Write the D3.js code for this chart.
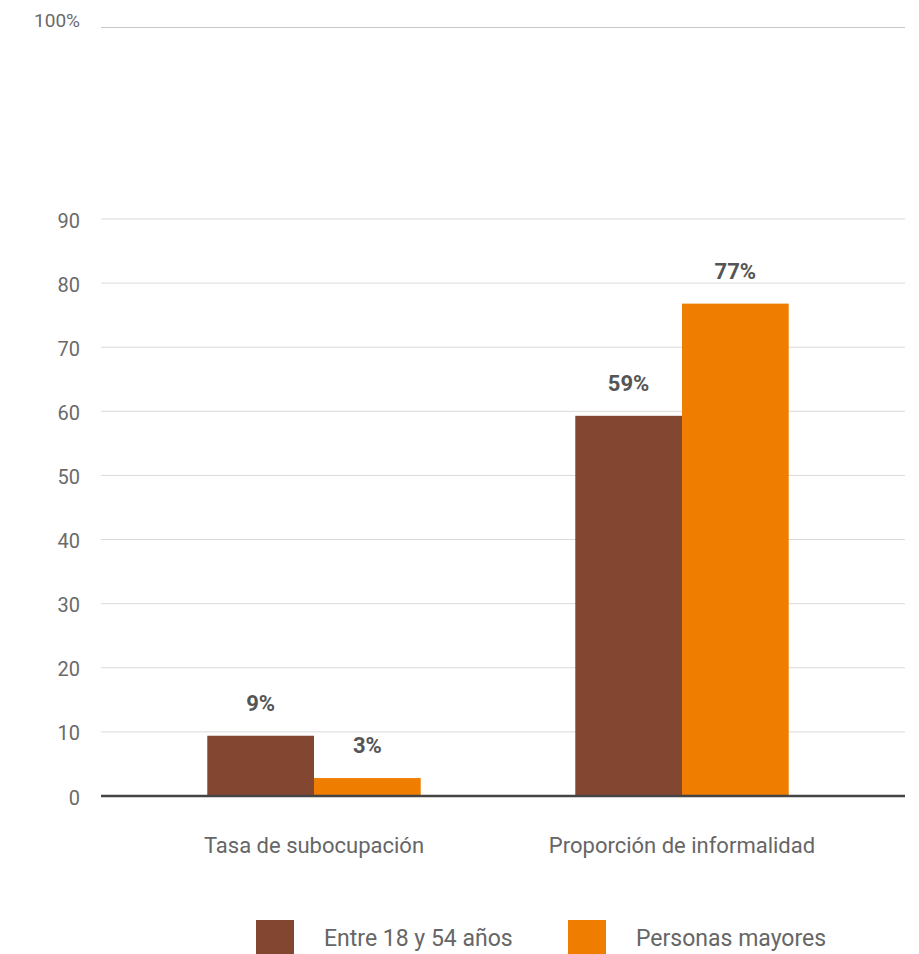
<!DOCTYPE html>
<html>
<head>
<meta charset="utf-8">
<script src="https://cdn.jsdelivr.net/npm/d3@7"></script>
<style>
  html, body { margin: 0; padding: 0; background: #fff; }
  svg { display: block; font-family: Roboto, "DejaVu Sans", sans-serif; }
</style>
</head>
<body>
<svg id="chart" width="919" height="954"></svg>
<script>
// Indicators shown on the x axis
const categories = ["Tasa de subocupación", "Proporción de informalidad"];
// Age groups (series)
const seriesNames = ["Entre 18 y 54 años", "Personas mayores"];
const seriesColors = ["#824631", "#EF7D00"];
// Percentages per series, in category order
const adultValues = [9.4, 59.3];
const olderValues = [2.8, 76.8];
// Axis ticks
const yTicks = [0, 10, 20, 30, 40, 50, 60, 70, 80, 90];
const topTickLabel = "100%";

const svg = d3.select("#chart");
const left = 101, right = 905, baseY = 796, topY = 219;

const y = d3.scaleLinear().domain([0, 90]).range([baseY, topY]);
const x0 = d3.scaleBand().domain(categories).range([130, 866])
  .paddingInner(0.42).paddingOuter(0.21);
const x1 = d3.scaleBand().domain(seriesNames).range([0, x0.bandwidth()]);
const color = d3.scaleOrdinal().domain(seriesNames).range(seriesColors);

// Gridlines
svg.append("g").selectAll("line").data(yTicks.filter(d => d > 0)).join("line")
  .attr("x1", left).attr("x2", right)
  .attr("y1", d => y(d)).attr("y2", d => y(d))
  .attr("stroke", "#d9d9d9").attr("stroke-width", 1);

// Top 100% reference line
svg.append("line").attr("x1", left).attr("x2", right)
  .attr("y1", 27.5).attr("y2", 27.5)
  .attr("stroke", "#c8c8c8").attr("stroke-width", 1);
svg.append("text").attr("x", 80).attr("y", 27)
  .attr("text-anchor", "end").attr("fill", "#6a6a6a")
  .attr("font-size", 19).text(topTickLabel);

// Y axis labels
const yAxis = d3.axisLeft(y).tickValues(yTicks).tickSize(0).tickPadding(0);
const gy = svg.append("g").attr("transform", "translate(80,0)").call(yAxis);
gy.select(".domain").remove();
gy.selectAll("text").attr("font-size", 20).attr("fill", "#6a6a6a")
  .attr("font-family", "Roboto, sans-serif").attr("dy", "0.4em");

// Bars
const rows = categories.map((c, i) => ({
  cat: c,
  vals: [{ s: seriesNames[0], v: adultValues[i] }, { s: seriesNames[1], v: olderValues[i] }]
}));

const groups = svg.append("g").selectAll("g").data(rows).join("g")
  .attr("transform", d => `translate(${x0(d.cat)},0)`);

groups.selectAll("rect").data(d => d.vals).join("rect")
  .attr("x", d => x1(d.s)).attr("width", x1.bandwidth())
  .attr("y", d => y(d.v)).attr("height", d => baseY - y(d.v))
  .attr("fill", d => color(d.s));

groups.selectAll("text.val").data(d => d.vals).join("text")
  .attr("class", "val")
  .attr("x", d => x1(d.s) + x1.bandwidth() / 2)
  .attr("y", d => y(d.v) - 25)
  .attr("text-anchor", "middle").attr("font-weight", "bold")
  .attr("font-size", 22).attr("fill", "#555")
  .text(d => Math.round(d.v) + "%");

// Baseline
svg.append("line").attr("x1", left).attr("x2", right)
  .attr("y1", baseY).attr("y2", baseY)
  .attr("stroke", "#444").attr("stroke-width", 2.5);

// Category labels
svg.append("g").selectAll("text").data(categories).join("text")
  .attr("x", d => x0(d) + x0.bandwidth() / 2).attr("y", 853)
  .attr("text-anchor", "middle").attr("font-size", 22).attr("fill", "#666")
  .text(d => d);

// Legend
const legendX = [256, 568];
const legend = svg.append("g").selectAll("g").data(seriesNames).join("g")
  .attr("transform", (d, i) => `translate(${legendX[i]},920)`);
legend.append("rect").attr("width", 38).attr("height", 36)
  .attr("fill", d => color(d));
legend.append("text").attr("x", 68).attr("y", 26)
  .attr("font-size", 23).attr("fill", "#666").text(d => d);
</script>
</body>
</html>
